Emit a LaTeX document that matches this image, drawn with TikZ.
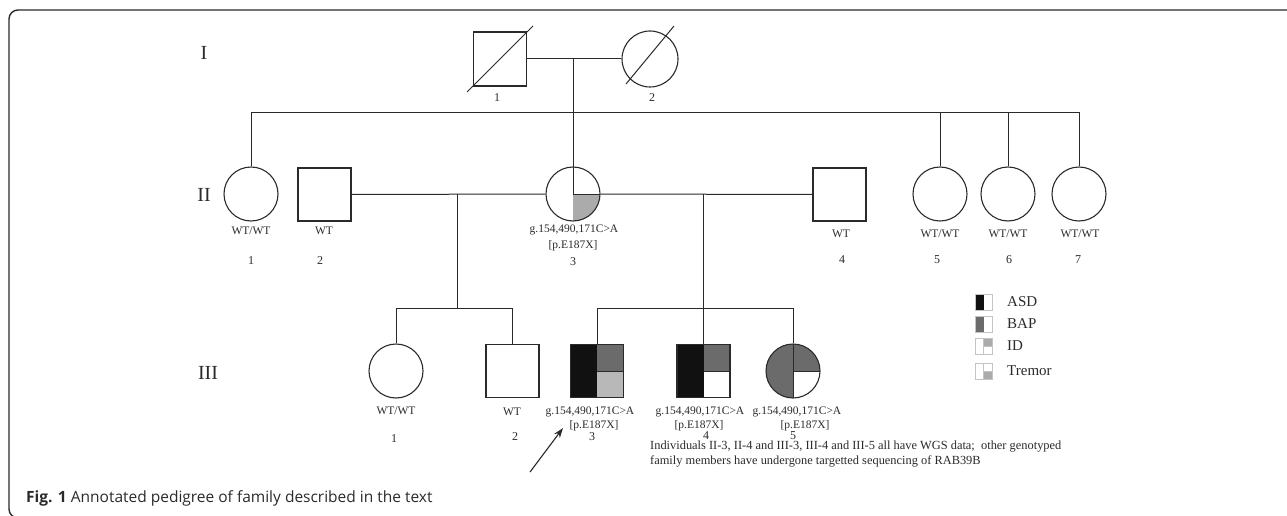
\documentclass[tikz,border=0pt]{standalone}
\usepackage{fontspec}
\setmainfont{Liberation Serif}
\newfontfamily\capfont{Open Sans}
\usetikzlibrary{arrows.meta}
\definecolor{ink}{HTML}{2A2A2A}
\definecolor{blk}{HTML}{111111}
\definecolor{dg}{HTML}{6B6B6B}
\definecolor{lg}{HTML}{B8B8B8}
\definecolor{qg}{HTML}{ABABAB}
\definecolor{lgb}{HTML}{C4C4C4}
\begin{document}
\begin{tikzpicture}[x=1pt,y=-1pt,
  line/.style={draw=ink, line width=1pt},
  male/.style={draw=ink, line width=1.1pt, rectangle, minimum width=53pt, minimum height=53pt, inner sep=0pt},
  female/.style={draw=ink, line width=1.1pt, circle, minimum size=54pt, inner sep=0pt},
  lab/.style={font=\fontsize{11.5}{12}\selectfont, inner sep=0pt, text=ink},
  num/.style={font=\fontsize{12}{12}\selectfont, inner sep=0pt, text=ink},
  gen/.style={font=\fontsize{20}{24}\selectfont, inner sep=0pt, text=ink},
  legbox/.style={draw=lgb, line width=0.8pt, rectangle, minimum width=17pt, minimum height=16pt, inner sep=0pt},
  legtext/.style={font=\fontsize{15}{18}\selectfont, inner sep=0pt, anchor=west, text=ink},
  note/.style={font=\fontsize{12.4}{14.5}\selectfont, inner sep=0pt, anchor=north west, align=left, text=ink}
]
\useasboundingbox (0,0) rectangle (1287,516);
% frame
\draw[line width=1.4pt, draw=ink, rounded corners=9pt] (1300,10) -- (9,10) -- (9,518) -- (1300,518);

% generation labels
\node[gen] (gI) at (204,53) {I};
\node[gen] (gII) at (204,195) {II};
\node[gen] (gIII) at (208,373) {III};

% generation I
\node[male, minimum height=54pt] (I1) at (500,59) {};
\node[female, minimum size=56pt] (I2) at (650,59) {};
\draw[line] (467,92) -- (533,26);
\draw[line] (626,84) -- (674,26);
\node[num] (nI1) at (497,98) {1};
\node[num] (nI2) at (652,98) {2};

% generation II
\node[female] (II1) at (251,194) {};
\node[male] (II2) at (324.5,194.5) {};
\node[female, path picture={
    \fill[qg] (path picture bounding box.center) rectangle (path picture bounding box.south east);
    \draw[ink, line width=1pt] (path picture bounding box.north) -- (path picture bounding box.center) -- (path picture bounding box.east);
  }] (II3) at (573,194) {};
\node[male] (II4) at (839.5,194.5) {};
\node[female] (II5) at (940,194) {};
\node[female] (II6) at (1008,194) {};
\node[female] (II7) at (1079,194) {};

% generation III
\node[female] (III1) at (396,371) {};
\node[male] (III2) at (512.5,371) {};
\node[male, path picture={
    \fill[blk] (path picture bounding box.north west) rectangle (path picture bounding box.south);
    \fill[dg] (path picture bounding box.north) rectangle (path picture bounding box.east);
    \fill[lg] (path picture bounding box.center) rectangle (path picture bounding box.south east);
    \draw[ink, line width=1pt] (path picture bounding box.center) -- (path picture bounding box.east);
  }] (III3) at (597,371) {};
\node[male, path picture={
    \fill[blk] (path picture bounding box.north west) rectangle (path picture bounding box.south);
    \fill[dg] (path picture bounding box.north) rectangle (path picture bounding box.east);
    \draw[ink, line width=1pt] (path picture bounding box.center) -- (path picture bounding box.east);
  }] (III4) at (703.5,371) {};
\node[female, path picture={
    \fill[dg] (path picture bounding box.north west) rectangle (path picture bounding box.south);
    \fill[dg] (path picture bounding box.north) rectangle (path picture bounding box.east);
    \draw[ink, line width=1pt] (path picture bounding box.north) -- (path picture bounding box.south);
    \draw[ink, line width=1pt] (path picture bounding box.center) -- (path picture bounding box.east);
  }] (III5) at (793,371) {};

% connectors
\coordinate (sibI) at (0,113);
\coordinate (cI) at (573,59);
\coordinate (m1) at (457,194);
\coordinate (m2) at (703.5,194);
\coordinate (sibIII) at (0,308);
\draw[line] (I1.east) -- (I2.west);
\draw[line] (cI) -- (II3.center);
\draw[line] (II1.north) -- (II1.north |- sibI) -- (II7.north |- sibI) -- (II7.north);
\draw[line] (II5.north |- sibI) -- (II5.north);
\draw[line] (II6.north |- sibI) -- (II6.north);
\draw[line] (II2.east) -- (II3.west);
\draw[line] (II3.east) -- (II4.west);
\draw[line] (m1) -- (m1 |- sibIII);
\draw[line] (III1.north) -- (III1.north |- sibIII) -- (III2.north |- sibIII) -- (III2.north);
\draw[line] (m2) -- (III4.north);
\draw[line] (III3.north) -- (III3.north |- sibIII) -- (III5.north |- sibIII) -- (III5.north);

% generation II labels
\node[lab] (gtII1) at (251,231) {WT/WT};
\node[lab] (gtII2) at (324,231) {WT};
\node[num] (nII1) at (251,261) {1};
\node[num] (nII2) at (320,261) {2};
\node[lab] (gtII3) at (574,230) {g.154,490,171C>A};
\node[lab] (pII3) at (573,246) {[p.E187X]};
\node[num] (nII3) at (573,262) {3};
\node[lab] (gtII4) at (841,234) {WT};
\node[num] (nII4) at (842,260) {4};
\node[lab] (gtII5) at (940,234) {WT/WT};
\node[lab] (gtII6) at (1008,234) {WT/WT};
\node[lab] (gtII7) at (1080,234) {WT/WT};
\node[num] (nII5) at (937,260) {5};
\node[num] (nII6) at (1009,260) {6};
\node[num] (nII7) at (1078,260) {7};

% generation III labels
\node[lab] (gtIII1) at (396,411) {WT/WT};
\node[num] (nIII1) at (394,439) {1};
\node[lab] (gtIII2) at (512,412) {WT};
\node[num] (nIII2) at (515,437) {2};
\node[lab] (gtIII3) at (590,412) {g.154,490,171C>A};
\node[lab] (pIII3) at (594,426) {[p.E187X]};
\node[num] (nIII3) at (592,437) {3};
\node[lab] (gtIII4) at (700,412) {g.154,490,171C>A};
\node[lab] (pIII4) at (699,426) {[p.E187X]};
\node[num] (nIII4) at (706,436) {4};
\node[lab] (gtIII5) at (797,412) {g.154,490,171C>A};
\node[lab] (pIII5) at (805,426) {[p.E187X]};
\node[num] (nIII5) at (793,436) {5};

% proband arrow
\coordinate (atail) at (530,472);
\coordinate (atip) at (563,428);
\draw[ink, line width=1.1pt, -{Stealth[length=10pt,width=7pt]}] (atail) -- (atip);

% note
\node[note] (notetext) at (650,441) {Individuals II-3, II-4 and III-3, III-4 and III-5 all have WGS data;\ \ other genotyped\\family members have undergone targetted sequencing of RAB39B};

% legend
\node[legbox, path picture={
    \fill[blk] (path picture bounding box.north west) rectangle (path picture bounding box.south);
  }] (lASD) at (983.5,302) {};
\node[legbox, path picture={
    \fill[dg] (path picture bounding box.north west) rectangle (path picture bounding box.south);
  }] (lBAP) at (983.5,324) {};
\node[legbox, path picture={
    \fill[qg] (path picture bounding box.north) rectangle (path picture bounding box.east);
    \draw[lgb, line width=0.8pt] (path picture bounding box.north) -- (path picture bounding box.south);
    \draw[lgb, line width=0.8pt] (path picture bounding box.center) -- (path picture bounding box.east);
  }] (lID) at (983.5,346.5) {};
\node[legbox, path picture={
    \fill[qg] (path picture bounding box.center) rectangle (path picture bounding box.south east);
    \draw[lgb, line width=0.8pt] (path picture bounding box.north) -- (path picture bounding box.south);
    \draw[lgb, line width=0.8pt] (path picture bounding box.center) -- (path picture bounding box.east);
  }] (lTR) at (983.5,371) {};
\node[legtext] (tASD) at (1007,302) {ASD};
\node[legtext] (tBAP) at (1007,324) {BAP};
\node[legtext] (tID) at (1007,346) {ID};
\node[legtext] (tTR) at (1007,371) {Tremor};

% caption
\node[inner sep=0pt, anchor=west, text=ink, font=\capfont\fontsize{15.5}{18}\selectfont] (cap) at (26,498) {\textbf{Fig. 1} Annotated pedigree of family described in the text};
\end{tikzpicture}
\end{document}
